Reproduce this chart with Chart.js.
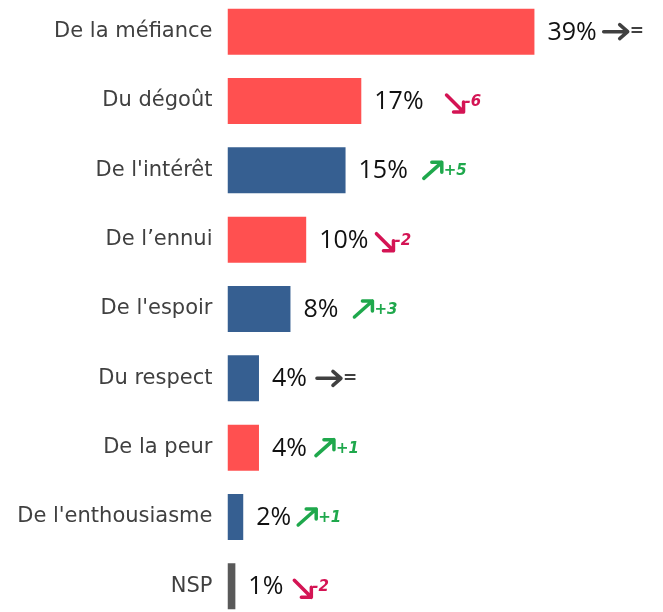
<!DOCTYPE html>
<html>
<head>
<meta charset="utf-8">
<script src="https://cdn.jsdelivr.net/npm/chart.js@4"></script>
<style>
  html, body { margin: 0; padding: 0; background: #ffffff; overflow: hidden; width: 663px; height: 612px; }
  #wrap { position: absolute; left: 0; top: -3px; width: 663px; height: 624px; }
</style>
</head>
<body>
<div id="wrap"><canvas id="c"></canvas></div>
<script>
// ---- data ----
const categories = ["De la méfiance", "Du dégoût", "De l'intérêt", "De l\u2019ennui", "De l'espoir", "Du respect", "De la peur", "De l'enthousiasme", "NSP"];
const values = [39, 17, 15, 10, 8, 4, 4, 2, 1];
const tones = ["neg", "neg", "pos", "neg", "pos", "pos", "neg", "pos", "nsp"];
const changes = ["=", "-6", "+5", "-2", "+3", "=", "+1", "+1", "-2"];

// ---- style ----
const toneColors = { neg: "#FF5050", pos: "#365F91", nsp: "#595959" };
const arrowGaps = [7, 22, 15, 7, 15, 10, 8, 6, 10];

function trendOf(c) {
  if (c.startsWith("+")) return "up";
  if (c.startsWith("-")) return "down";
  return "flat";
}
const trendColors = { up: "#1FA84C", down: "#D41454", flat: "#404040" };

const labelPlugin = {
  id: "labels",
  afterDatasetsDraw(chart) {
    const ctx = chart.ctx;
    const meta = chart.getDatasetMeta(0);
    meta.data.forEach((bar, i) => {
      const y = bar.y;
      const txt = values[i] + "%";
      ctx.save();
      ctx.font = "25px 'Open Sans'";
      ctx.fillStyle = "#111111";
      ctx.textAlign = "left";
      ctx.textBaseline = "middle";
      const lx = bar.x + 13;
      ctx.fillText(txt, lx, y + 1);
      const w = ctx.measureText(txt).width;
      let ax = lx + w + arrowGaps[i];
      const tr = trendOf(changes[i]);
      const col = trendColors[tr];
      ctx.strokeStyle = col;
      ctx.lineWidth = 3.5;
      ctx.lineCap = "round";
      ctx.lineJoin = "round";
      let endX;
      ctx.beginPath();
      if (tr === "flat") {
        const x0 = ax, x1 = ax + 24;
        ctx.moveTo(x0, y); ctx.lineTo(x1, y);
        ctx.moveTo(x1 - 8, y - 7); ctx.lineTo(x1, y); ctx.lineTo(x1 - 8, y + 7);
        endX = x1 + 2;
      } else if (tr === "up") {
        const x0 = ax + 1, y0 = y + 8, x1 = ax + 19, y1 = y - 8;
        ctx.moveTo(x0, y0); ctx.lineTo(x1, y1);
        ctx.moveTo(x1 - 10, y1); ctx.lineTo(x1, y1); ctx.lineTo(x1, y1 + 10);
        endX = x1 + 2;
      } else {
        const x0 = ax + 1, y0 = y - 6, x1 = ax + 18, y1 = y + 11;
        ctx.moveTo(x0, y0); ctx.lineTo(x1, y1);
        ctx.moveTo(x1 - 10, y1); ctx.lineTo(x1, y1); ctx.lineTo(x1, y1 - 10);
        endX = x1 + 1;
      }
      ctx.stroke();
      ctx.font = tr === "flat" ? "italic bold 17px 'DejaVu Sans'" : "italic bold 15px 'DejaVu Sans'";
      ctx.fillStyle = col;
      ctx.textBaseline = "middle";
      ctx.fillText(changes[i], endX, tr === "flat" ? y : y + 1);
      ctx.restore();
    });
  }
};

new Chart(document.getElementById("c"), {
  type: "bar",
  data: {
    labels: categories,
    datasets: [{
      data: values,
      backgroundColor: tones.map(t => toneColors[t]),
      borderWidth: 0,
      barPercentage: 0.663,
      categoryPercentage: 1.0
    }]
  },
  options: {
    indexAxis: "y",
    responsive: true,
    maintainAspectRatio: false,
    animation: false,
    layout: { padding: { left: 0, right: 42, top: 0, bottom: 0 } },
    plugins: { legend: { display: false }, tooltip: { enabled: false } },
    scales: {
      x: { display: false, min: 0, max: 50 },
      y: {
        afterFit(scale) { scale.width = 227.5; scale.paddingTop = 0; scale.paddingBottom = 0; },
        grid: { display: false, drawTicks: false },
        border: { display: false },
        ticks: {
          padding: 15,
          color: "#404040",
          font: { family: "'DejaVu Sans'", size: 21 }
        }
      }
    }
  },
  plugins: [labelPlugin]
});
</script>
</body>
</html>
